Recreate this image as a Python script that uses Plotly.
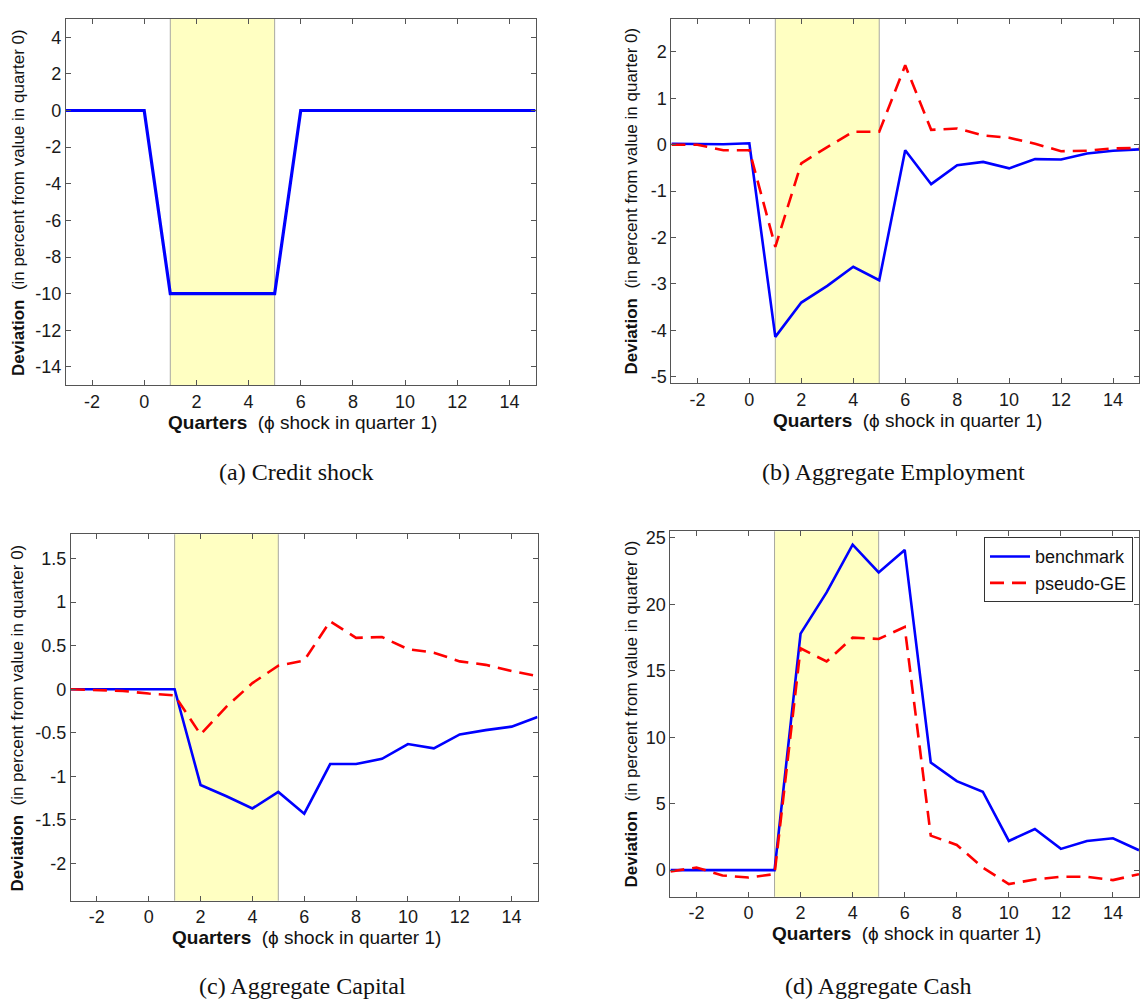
import plotly.graph_objects as go

# Quarters relative to the credit shock
quarters = list(range(-3, 16))

# (a) Credit shock (percent deviation of phi)
credit_shock = [0, 0, 0, 0, -10, -10, -10, -10, -10, 0, 0, 0, 0, 0, 0, 0, 0, 0, 0]

# (b) Aggregate employment
emp_benchmark = [0.02, 0.02, 0.01, 0.03, -4.14, -3.40, -3.04, -2.63, -2.92, -0.12, -0.85,
                 -0.44, -0.37, -0.51, -0.31, -0.32, -0.19, -0.13, -0.10]
emp_pseudo_ge = [0.0, 0.0, -0.12, -0.12, -2.20, -0.40, -0.05, 0.28, 0.28, 1.71, 0.32,
                 0.35, 0.20, 0.15, 0.02, -0.14, -0.13, -0.08, -0.07]

# (c) Aggregate capital
cap_benchmark = [0.0, 0.0, 0.0, 0.0, 0.0, -1.10, -1.23, -1.37, -1.18, -1.43, -0.86,
                 -0.86, -0.80, -0.63, -0.68, -0.52, -0.47, -0.43, -0.32]
cap_pseudo_ge = [0.0, -0.01, -0.02, -0.05, -0.07, -0.52, -0.20, 0.07, 0.27, 0.33, 0.78,
                 0.59, 0.60, 0.46, 0.42, 0.32, 0.28, 0.21, 0.15]

# (d) Aggregate cash
cash_benchmark = [0.0, 0.0, 0.0, 0.0, 0.0, 17.8, 20.9, 24.5, 22.4, 24.1, 8.1,
                  6.7, 5.9, 2.2, 3.1, 1.6, 2.2, 2.4, 1.5]
cash_pseudo_ge = [-0.1, 0.2, -0.4, -0.55, -0.3, 16.7, 15.7, 17.5, 17.4, 18.3, 2.6,
                  1.9, 0.2, -1.05, -0.7, -0.5, -0.5, -0.75, -0.3]

series_names = ["benchmark", "pseudo-GE"]
captions = ["(a) Credit shock", "(b) Aggregate Employment",
            "(c) Aggregate Capital", "(d) Aggregate Cash"]
x_ticks = [-2, 0, 2, 4, 6, 8, 10, 12, 14]
y_ticks = [
    [-14, -12, -10, -8, -6, -4, -2, 0, 2, 4],
    [-5, -4, -3, -2, -1, 0, 1, 2],
    [-2, -1.5, -1, -0.5, 0, 0.5, 1, 1.5],
    [0, 5, 10, 15, 20, 25],
]
y_ranges = [[-15, 5], [-5.14, 2.71], [-2.43, 1.78], [-2.0, 25.5]]
shock_window = [1, 5]

W, H = 1140, 1007
BLUE = "#0000FF"
RED = "#FF0000"
FRAME = "#555555"
SHADE = "#FFFFC2"
SANS = "Liberation Sans, Arial, sans-serif"
SERIF = "Liberation Serif, Times New Roman, serif"

# Panel boxes in pixels: (left, right, top, bottom)
boxes = [(66, 536, 16, 385), (672, 1140, 16, 383), (71, 538, 535, 904), (671, 1140, 532, 900)]


def px_x(v):
    return v / W


def px_y(v):
    return (H - v) / H


def tick_text(vals):
    # plain hyphen-minus labels
    return [("%g" % v) for v in vals]


fig = go.Figure()

panel_series = [
    [(credit_shock, None)],
    [(emp_benchmark, 0), (emp_pseudo_ge, 1)],
    [(cap_benchmark, 0), (cap_pseudo_ge, 1)],
    [(cash_benchmark, 0), (cash_pseudo_ge, 1)],
]

for i, series in enumerate(panel_series):
    sfx = "" if i == 0 else str(i + 1)
    for values, kind in series:
        if kind is None:
            line = dict(color=BLUE, width=3.2)
            name, show = series_names[0], False
        elif kind == 0:
            line = dict(color=BLUE, width=2.6)
            name, show = series_names[0], i == 3
        else:
            line = dict(color=RED, width=2.6, dash="14px,8px")
            name, show = series_names[1], i == 3
        fig.add_trace(go.Scatter(
            x=quarters, y=values, mode="lines", line=line, name=name,
            showlegend=show, xaxis="x" + sfx, yaxis="y" + sfx,
        ))

    l, r, t, b = boxes[i]
    axis_common = dict(
        showline=True, mirror="ticks", linecolor=FRAME, linewidth=1,
        ticks="inside", ticklen=5, tickcolor=FRAME, tickwidth=1,
        showgrid=False, zeroline=False,
        tickfont=dict(family=SANS, size=18, color="#1a1a1a"),
    )
    fig.layout["xaxis" + sfx] = dict(
        axis_common, domain=[px_x(l), min(px_x(r), 1.0)], range=[-3, 15],
        tickvals=x_ticks, ticktext=tick_text(x_ticks), anchor="y" + sfx,
    )
    fig.layout["yaxis" + sfx] = dict(
        axis_common, domain=[px_y(b), px_y(t)], range=y_ranges[i],
        tickvals=y_ticks[i], ticktext=tick_text(y_ticks[i]), anchor="x" + sfx,
    )

    # shock window shading and its edges
    fig.add_shape(type="rect", xref="x" + sfx, yref="y" + sfx + " domain",
                  x0=shock_window[0], x1=shock_window[1], y0=0, y1=1,
                  fillcolor=SHADE, line_width=0, layer="below")
    for xv in shock_window:
        fig.add_shape(type="line", xref="x" + sfx, yref="y" + sfx + " domain",
                      x0=xv, x1=xv, y0=0, y1=1,
                      line=dict(color="#A8A8A0", width=1), layer="below")

    # axis titles
    ymid = (t + b) / 2
    ytitle_x = 18 if i in (0, 2) else 632
    fig.add_annotation(
        xref="paper", yref="paper", x=px_x(ytitle_x), y=px_y(ymid),
        text="<b>Deviation</b>\u00a0\u00a0(in percent from value in quarter 0)",
        textangle=-90, showarrow=False, xanchor="center", yanchor="middle",
        font=dict(family=SANS, size=17, color="#111111"),
    )
    xtitle_y = b + 37
    fig.add_annotation(
        xref="paper", yref="paper", x=px_x((l + min(r, 1140)) / 2 + 2), y=px_y(xtitle_y),
        text="<b>Quarters</b>\u00a0\u00a0(\u03d5 shock in quarter 1)",
        showarrow=False, xanchor="center", yanchor="middle",
        font=dict(family=SANS, size=19, color="#111111"),
    )

# sub-figure captions
caption_pos = [(297, 472), (894, 472), (303, 990), (879, 990)]
for cap, (cx, cy) in zip(captions, caption_pos):
    fig.add_annotation(
        xref="paper", yref="paper", x=px_x(cx), y=px_y(cy),
        text=cap, showarrow=False, xanchor="center", yanchor="middle",
        font=dict(family=SERIF, size=24, color="#111111"),
    )

fig.update_layout(
    width=W, height=H,
    margin=dict(l=0, r=0, t=0, b=0),
    paper_bgcolor="white", plot_bgcolor="white",
    legend=dict(
        x=px_x(1134), y=px_y(538), xanchor="right", yanchor="top",
        bgcolor="white", bordercolor="#333333", borderwidth=1,
        font=dict(family=SANS, size=18, color="#111111"),
        tracegroupgap=0, itemwidth=40,
    ),
)

fig.write_html("out.html")
